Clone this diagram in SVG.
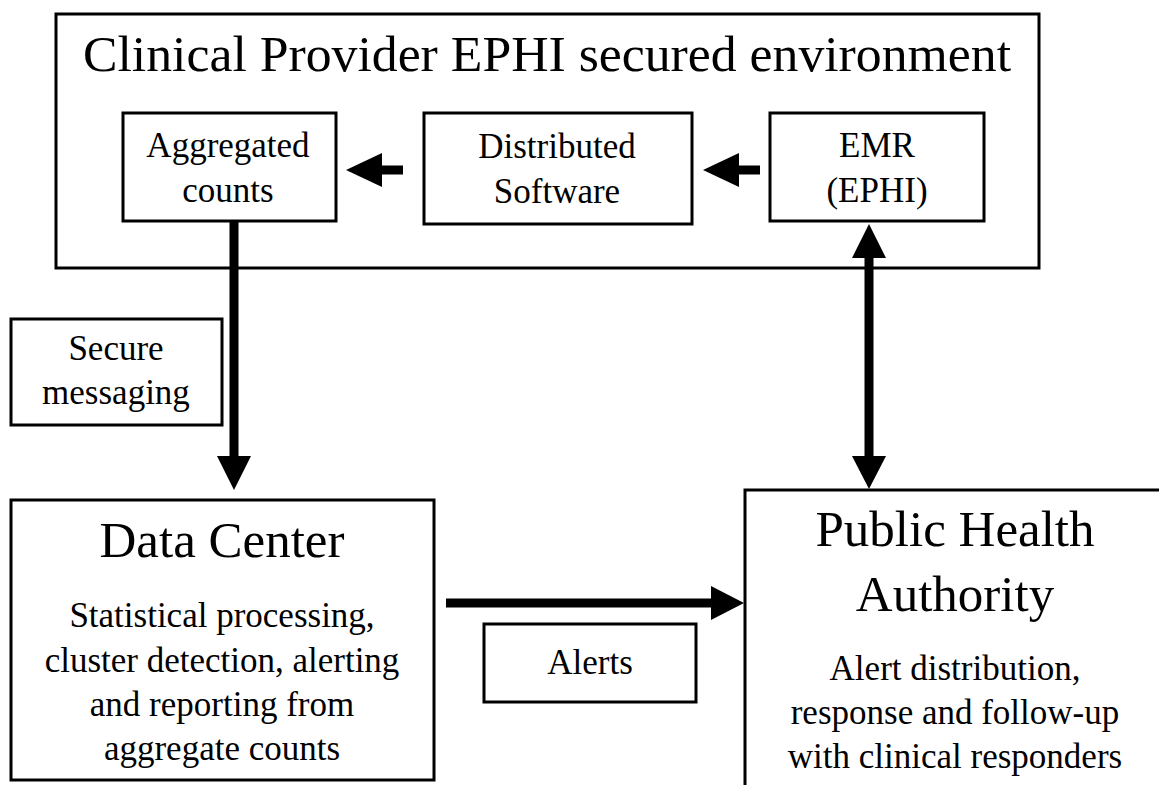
<svg xmlns="http://www.w3.org/2000/svg" width="1159" height="785" viewBox="0 0 1159 785">
<style>
  .box { fill: #ffffff; stroke: #000000; stroke-width: 3; }
  .t { fill: #000000; text-anchor: middle; }
  .big { font-size: 51px; }
  .small { font-size: 35px; }
  .shaft { stroke: #000000; stroke-width: 9; fill: none; }
  .head { fill: #000000; stroke: none; }
</style>
<rect width="1159" height="785" fill="#ffffff"/>
<g font-family="'Liberation Serif', 'DejaVu Serif', serif">
<g id="clinical-provider">
  <rect class="box" x="56" y="14" width="983" height="254"/>
  <text class="t big" x="547" y="71" textLength="928" lengthAdjust="spacingAndGlyphs">Clinical Provider EPHI secured environment</text>
</g>
<g id="aggregated-counts">
  <rect class="box" x="123" y="113" width="213" height="108"/>
  <text class="t small" x="228" y="157">Aggregated</text>
  <text class="t small" x="228" y="202">counts</text>
</g>
<g id="distributed-software">
  <rect class="box" x="424" y="113" width="268" height="111"/>
  <text class="t small" x="557" y="158">Distributed</text>
  <text class="t small" x="557" y="203">Software</text>
</g>
<g id="emr">
  <rect class="box" x="770" y="113" width="214" height="108"/>
  <text class="t small" x="877" y="157">EMR</text>
  <text class="t small" x="877" y="202">(EPHI)</text>
</g>
<g id="secure-messaging">
  <rect class="box" x="11" y="319" width="211" height="106"/>
  <text class="t small" x="116" y="360">Secure</text>
  <text class="t small" x="116" y="404">messaging</text>
</g>
<g id="data-center">
  <rect class="box" x="11" y="500" width="423" height="280"/>
  <text class="t big" x="222" y="557">Data Center</text>
  <text class="t small" x="222" y="627">Statistical processing,</text>
  <text class="t small" x="222" y="672">cluster detection, alerting</text>
  <text class="t small" x="222" y="716">and reporting from</text>
  <text class="t small" x="222" y="760">aggregate counts</text>
</g>
<g id="alerts">
  <rect class="box" x="484" y="624" width="212" height="78"/>
  <text class="t small" x="590" y="674">Alerts</text>
</g>
<g id="public-health-authority">
  <rect class="box" x="745" y="490" width="420" height="310"/>
  <text class="t big" x="955" y="546">Public Health</text>
  <text class="t big" x="955" y="611">Authority</text>
  <text class="t small" x="955" y="680">Alert distribution,</text>
  <text class="t small" x="955" y="724">response and follow-up</text>
  <text class="t small" x="955" y="768">with clinical responders</text>
</g>
</g>
<g id="connectors">
  <line class="shaft" x1="403" y1="170" x2="378" y2="170"/>
  <polygon class="head" points="346,170 382,153 382,187"/>
  <line class="shaft" x1="760" y1="170" x2="735" y2="170"/>
  <polygon class="head" points="703,170 739,153 739,187"/>
  <line class="shaft" x1="234" y1="221" x2="234" y2="460"/>
  <polygon class="head" points="234,490 217,456 251,456"/>
  <line class="shaft" x1="869" y1="250" x2="869" y2="462"/>
  <polygon class="head" points="869,224 852,258 886,258"/>
  <polygon class="head" points="869,489 852,456 886,456"/>
  <line class="shaft" x1="446" y1="603" x2="716" y2="603"/>
  <polygon class="head" points="744,603 711,586 711,620"/>
</g>
</svg>
